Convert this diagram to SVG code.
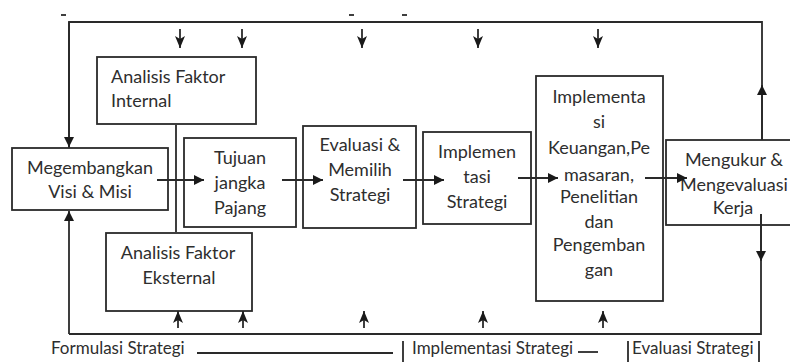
<svg xmlns="http://www.w3.org/2000/svg" width="790" height="363" viewBox="0 0 790 363">
<style>
.box{fill:#fff;stroke:#2a2a2a;stroke-width:1.8}
.ln{fill:none;stroke:#2a2a2a;stroke-width:1.8}
.t{font-family:Lato,"Open Sans","Liberation Sans",sans-serif;font-size:18px;fill:#2e2e2e;text-anchor:middle}
.tl{font-family:Lato,"Open Sans","Liberation Sans",sans-serif;font-size:18px;fill:#2e2e2e}
.lab{font-family:Lato,"Open Sans","Liberation Sans",sans-serif;font-size:17px;fill:#2e2e2e}
</style>
<defs>
<marker id="ah" viewBox="0 0 10 10" refX="10" refY="5" markerWidth="11" markerHeight="10" markerUnits="userSpaceOnUse" orient="auto">
<path d="M0,0 L10,5 L0,10 Z" fill="#1a1a1a"/>
</marker>
<marker id="as" viewBox="0 0 12 10" refX="12" refY="5" markerWidth="12" markerHeight="10" markerUnits="userSpaceOnUse" orient="auto">
<path d="M0,0 L12,5 L0,10 L3,5 Z" fill="#1a1a1a"/>
</marker>
</defs>

<g id="internal">
<rect class="box" x="97" y="57" width="159" height="67"/>
<text class="tl" x="111" y="83">Analisis Faktor</text>
<text class="tl" x="111" y="107">Internal</text>
</g>

<g id="visi">
<rect class="box" x="12" y="148" width="156" height="62"/>
<text class="t" x="90" y="174">Megembangkan</text>
<text class="t" x="90" y="198">Visi &amp; Misi</text>
</g>

<g id="tujuan">
<rect class="box" x="184" y="138" width="112" height="89"/>
<text class="t" x="240" y="164">Tujuan</text>
<text class="t" x="240" y="189">jangka</text>
<text class="t" x="240" y="214">Pajang</text>
</g>

<g id="evaluasi">
<rect class="box" x="303" y="126" width="113" height="102"/>
<text class="t" x="360" y="151">Evaluasi &amp;</text>
<text class="t" x="360" y="176">Memilih</text>
<text class="t" x="360" y="201">Strategi</text>
</g>

<g id="implemen">
<rect class="box" x="423" y="132" width="108" height="92"/>
<text class="t" x="477" y="158">Implemen</text>
<text class="t" x="477" y="183">tasi</text>
<text class="t" x="477" y="208">Strategi</text>
</g>

<g id="implementasi">
<rect class="box" x="536" y="76" width="127" height="225"/>
<text class="t" x="599" y="103">Implementa</text>
<text class="t" x="599" y="128">si</text>
<text class="t" x="599" y="154">Keuangan,Pe</text>
<text class="t" x="599" y="181">masaran,</text>
<text class="t" x="599" y="203">Penelitian</text>
<text class="t" x="599" y="228">dan</text>
<text class="t" x="599" y="251">Pengemban</text>
<text class="t" x="599" y="276">gan</text>
</g>

<g id="mengukur">
<rect class="box" x="666" y="140" width="130" height="85"/>
<text class="t" x="734" y="166">Mengukur &amp;</text>
<text class="t" x="734" y="191">Mengevaluasi</text>
<text class="t" x="733" y="214">Kerja</text>
</g>

<g id="eksternal">
<rect class="box" x="106" y="233" width="146" height="78"/>
<text class="t" x="178" y="259">Analisis Faktor</text>
<text class="t" x="179" y="284">Eksternal</text>
</g>

<g id="connectors">
<polyline class="ln" points="69,148 69,22 762,22 762,140"/>
<line class="ln" x1="69" y1="334" x2="69" y2="211" marker-end="url(#ah)"/>
<line class="ln" x1="69" y1="22" x2="69" y2="147" marker-end="url(#ah)"/>
<line class="ln" x1="762" y1="140" x2="762" y2="85" marker-end="url(#ah)"/>
<polyline class="ln" points="69,334 761,334 761,214"/>
<line class="ln" x1="761" y1="214" x2="761" y2="261" marker-end="url(#ah)"/>
<line class="ln" x1="176" y1="125" x2="176" y2="232"/>
<line class="ln" x1="157" y1="180" x2="204" y2="180" marker-end="url(#ah)"/>
<line class="ln" x1="282" y1="180" x2="323" y2="180" marker-end="url(#ah)"/>
<line class="ln" x1="403" y1="180" x2="444" y2="180" marker-end="url(#ah)"/>
<line class="ln" x1="518" y1="178" x2="558" y2="178" marker-end="url(#ah)"/>
<line class="ln" x1="645" y1="178" x2="687" y2="178" marker-end="url(#ah)"/>
<line class="ln" x1="180" y1="29" x2="180" y2="48" marker-end="url(#as)"/>
<line class="ln" x1="242" y1="29" x2="242" y2="48" marker-end="url(#as)"/>
<line class="ln" x1="362" y1="29" x2="362" y2="48" marker-end="url(#as)"/>
<line class="ln" x1="478" y1="29" x2="478" y2="48" marker-end="url(#as)"/>
<line class="ln" x1="598" y1="29" x2="598" y2="48" marker-end="url(#as)"/>
<line class="ln" x1="178" y1="328" x2="178" y2="311" marker-end="url(#as)"/>
<line class="ln" x1="243" y1="328" x2="243" y2="311" marker-end="url(#as)"/>
<line class="ln" x1="364" y1="328" x2="364" y2="311" marker-end="url(#as)"/>
<line class="ln" x1="483" y1="328" x2="483" y2="311" marker-end="url(#as)"/>
<line class="ln" x1="603" y1="328" x2="603" y2="311" marker-end="url(#as)"/>
<line class="ln" x1="61" y1="15" x2="66" y2="15" stroke-width="1.2"/>
<line class="ln" x1="349" y1="15" x2="354" y2="15" stroke-width="1.2"/>
<line class="ln" x1="402" y1="15" x2="407" y2="15" stroke-width="1.2"/>
</g>

<g id="labels">
<text class="lab" x="51" y="354">Formulasi Strategi</text>
<line class="ln" x1="197" y1="353" x2="393" y2="353" stroke-width="1.4"/>
<line class="ln" x1="403" y1="341" x2="403" y2="362" stroke-width="1.4"/>
<text class="lab" x="412" y="354">Implementasi Strategi</text>
<line class="ln" x1="578" y1="352" x2="598" y2="352" stroke-width="1.4"/>
<line class="ln" x1="628" y1="341" x2="628" y2="362" stroke-width="1.4"/>
<text class="lab" x="632" y="354">Evaluasi Strategi</text>
<line class="ln" x1="759" y1="341" x2="759" y2="362" stroke-width="1.4"/>
</g>
</svg>
